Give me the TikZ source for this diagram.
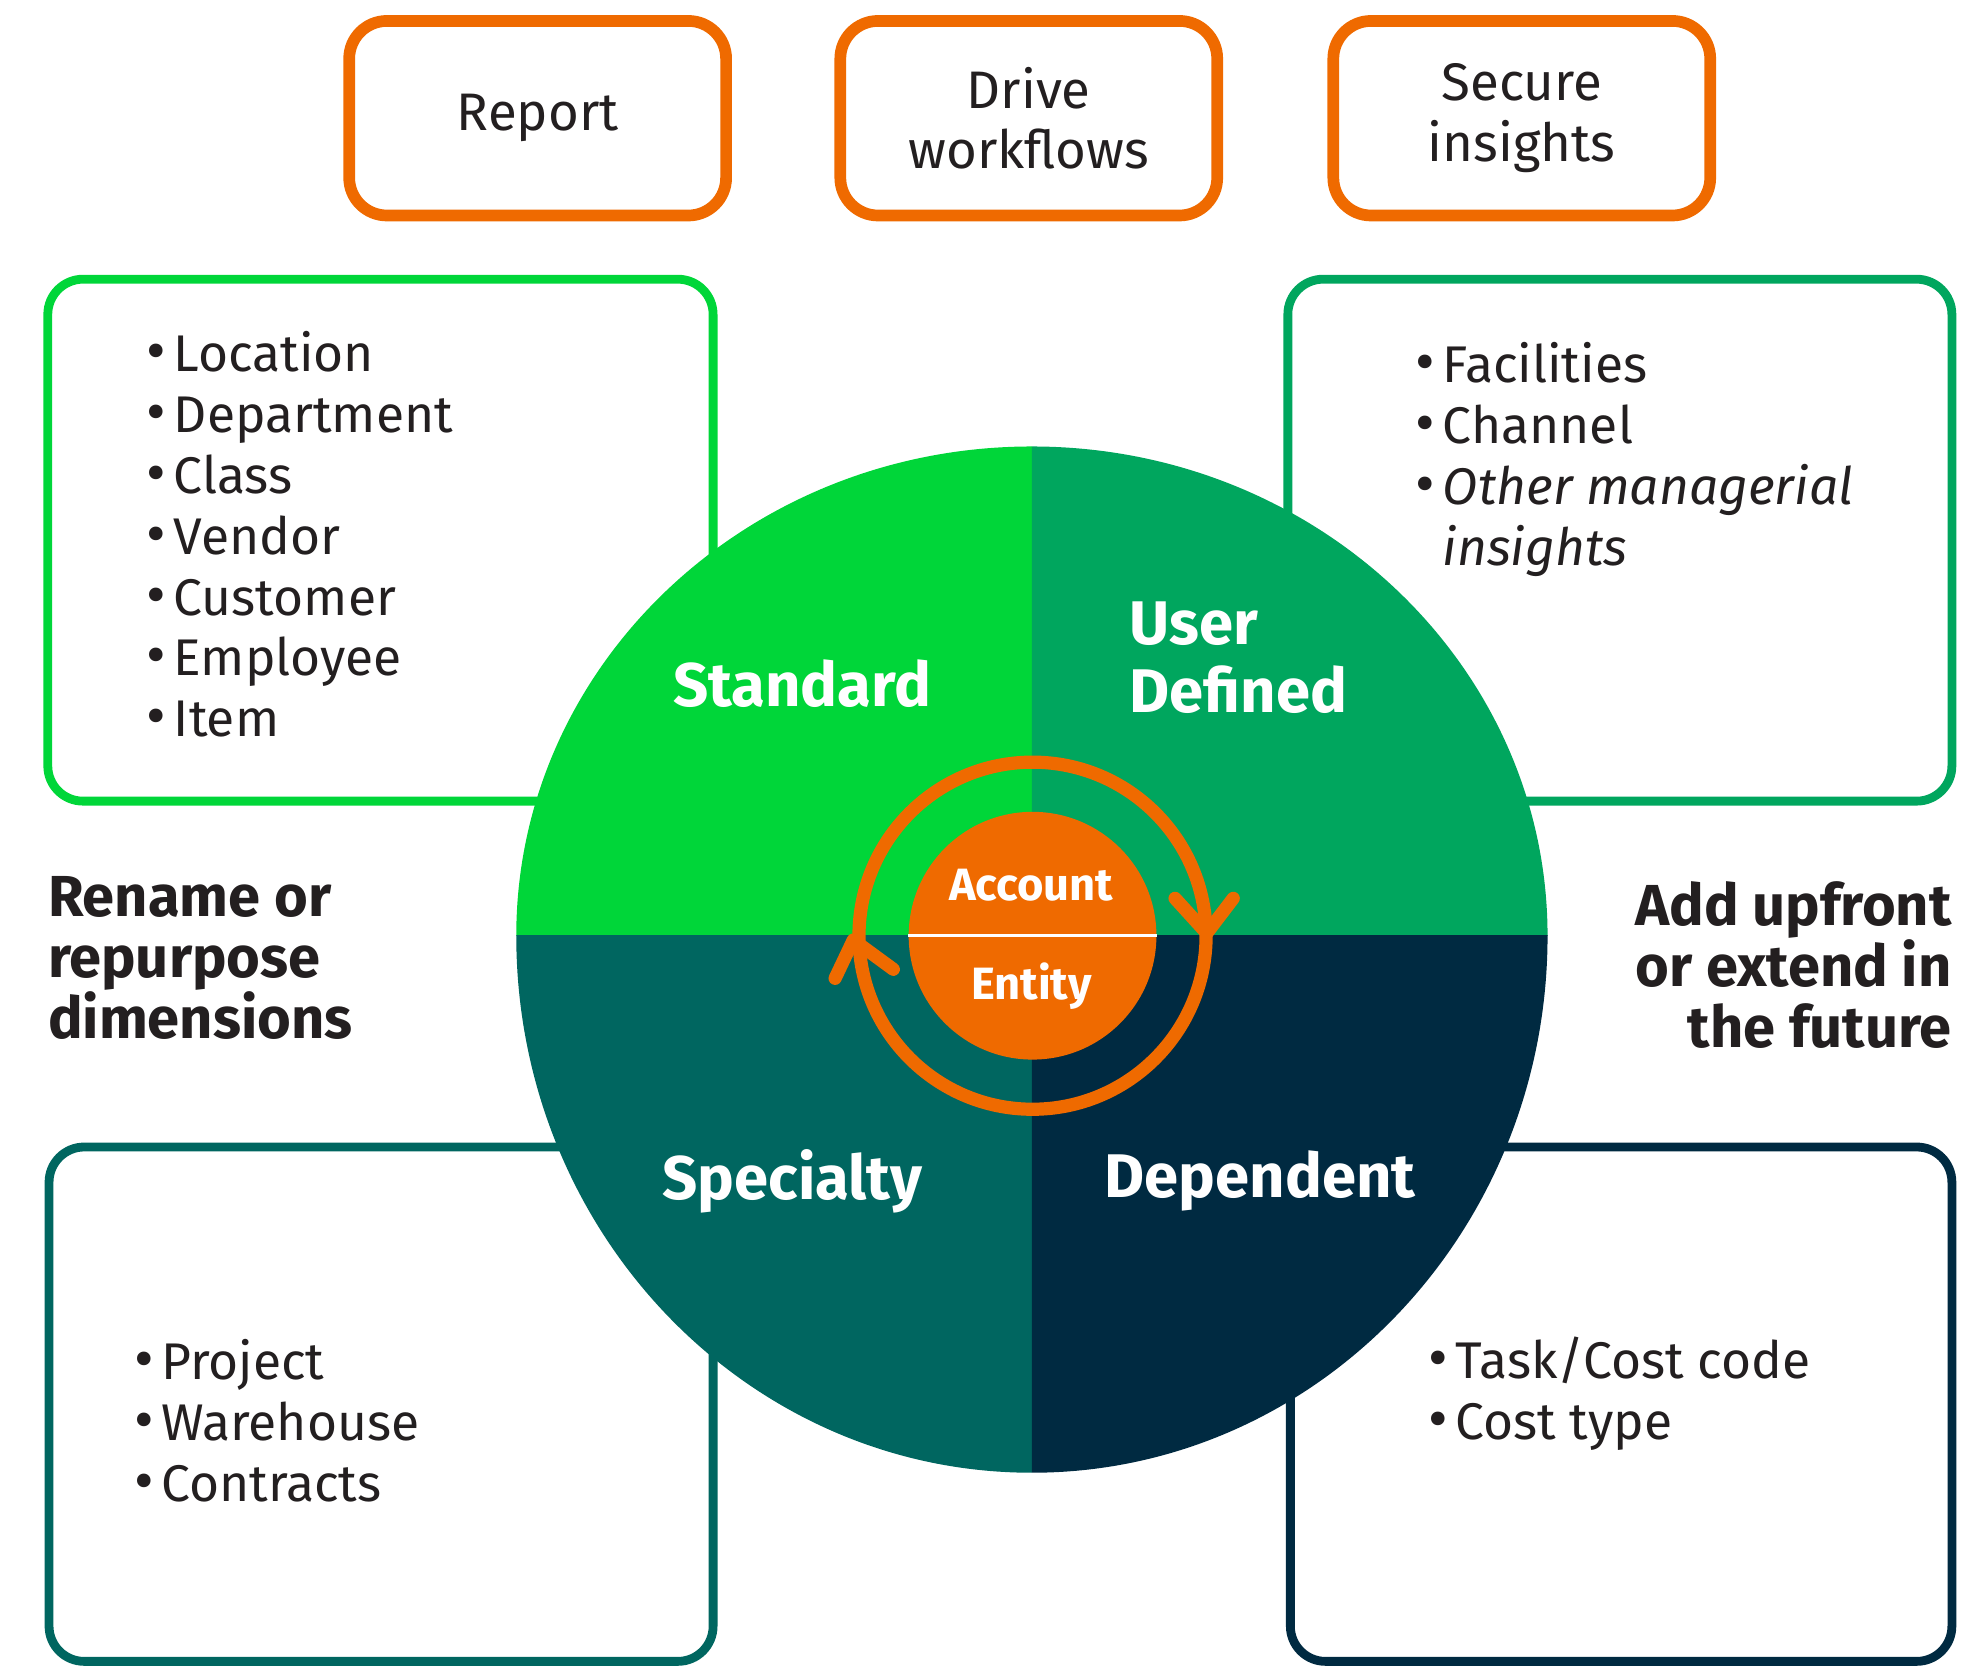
\documentclass[tikz,border=0pt]{standalone}
\usepackage{fontspec}
\setmainfont{Fira Sans}
\definecolor{cBright}{HTML}{00D639}
\definecolor{cGreen}{HTML}{00A65E}
\definecolor{cTeal}{HTML}{006660}
\definecolor{cNavy}{HTML}{002A41}
\definecolor{cOrange}{HTML}{EF6A00}
\definecolor{cText}{HTML}{231F20}
\newcommand\bul{\llap{\raisebox{0pt}{\fontsize{48}{48}\selectfont •}\hspace{6pt}}}
\begin{document}
\begin{tikzpicture}[x=1pt,y=-1pt,
  orangebox/.style={draw=cOrange, line width=9.3pt, rounded corners=30pt, fill=white,
    minimum width=299.7pt, minimum height=154.7pt, align=center, inner sep=0pt,
    font=\fontsize{42}{48}\selectfont, text=cText},
  listbox/.style={line width=7pt, rounded corners=28pt, fill=white},
  listtext/.style={font=\fontsize{41}{48.5}\selectfont, text=cText, inner sep=0pt,
    align=left, anchor=base west},
  quadlabel/.style={font=\bfseries\fontsize{49}{54}\selectfont, text=white, inner sep=0pt},
  corelabel/.style={font=\bfseries\fontsize{36}{40}\selectfont, text=white, inner sep=0pt, anchor=base},
  sidetext/.style={font=\bfseries\fontsize{46}{48.5}\selectfont, text=cText, inner sep=0pt},
  ringline/.style={draw=cOrange, line width=10.5pt, line cap=round, line join=round}
]
\useasboundingbox (0,0) rectangle (1568,1325);

% top orange boxes
\node[orangebox] (report) at (427.5,94) {Report};
\node[orangebox] (drive)  at (818,94)  {Drive\\workflows};
\node[orangebox] (secure) at (1210,94) {Secure\\insights};

% list boxes
\draw[listbox, draw=cBright] (38,222) rectangle (567,637);
\draw[listbox, draw=cGreen]  (1024,222) rectangle (1552,637);
\draw[listbox, draw=cTeal]   (39,912) rectangle (567,1321);
\draw[listbox, draw=cNavy]   (1026,912) rectangle (1552,1321);

% big quartered disc
\begin{scope}
  \clip (400,340) rectangle (820.5,744);
  \fill[cBright] (820.5,744) ellipse[x radius=410, y radius=389];
\end{scope}
\begin{scope}
  \clip (820.5,340) rectangle (1240,744);
  \fill[cGreen] (820.5,744) ellipse[x radius=410, y radius=389];
\end{scope}
\begin{scope}
  \clip (400,744) rectangle (820.5,1180);
  \fill[cTeal] (820.5,744) ellipse[x radius=410, y radius=427];
\end{scope}
\begin{scope}
  \clip (820.5,744) rectangle (1240,1180);
  \fill[cNavy] (820.5,744) ellipse[x radius=410, y radius=427];
\end{scope}

% ring with chevrons
\node[circle, minimum size=276pt, inner sep=0pt, ringline] (ring) at (821,744) {};
\draw[ringline] (934.3,714.3) -- (959.5,742) -- (980.6,714.3);
\draw[ringline] (664,777.9) -- (678.5,747.4) -- (710.3,770.7);

% core
\node[circle, fill=cOrange, minimum size=197pt, inner sep=0pt] (core) at (821,744) {};
\draw[white, line width=2pt] (core.west) -- (core.east);
\node[corelabel] (account) at (820,716) {Account};
\node[corelabel] (entity)  at (820,795) {Entity};

% quadrant labels
\node[quadlabel, anchor=base] (standard) at (638,562) {Standard};
\node[quadlabel, anchor=west, align=left] (userdef) at (898,523) {User\\Defined};
\node[quadlabel, anchor=base] (specialty) at (630,954) {Specialty};
\node[quadlabel, anchor=base] (dependent) at (1002,952) {Dependent};

% list texts (base anchor = baseline of last line)
\node[listtext] (stdlist) at (138,586) {\bul Location\\\bul Department\\\bul Class\\\bul Vendor\\\bul Customer\\\bul Employee\\\bul Item};
\node[listtext] (udlist) at (1147,449.5) {\bul Facilities\\\bul Channel\\\bul \textit{Other managerial}\\\textit{insights}};
\node[listtext] (splist) at (128,1194) {\bul Project\\\bul Warehouse\\\bul Contracts};
\node[listtext] (deplist) at (1157,1144.5) {\bul Task/Cost code\\\bul Cost type};

% side texts
\node[sidetext, anchor=west, align=left] (rename) at (38,762) {Rename or\\repurpose\\dimensions};
\node[sidetext, anchor=east, align=right] (addup) at (1552,767) {Add upfront\\or extend in\\the future};
\end{tikzpicture}
\end{document}
